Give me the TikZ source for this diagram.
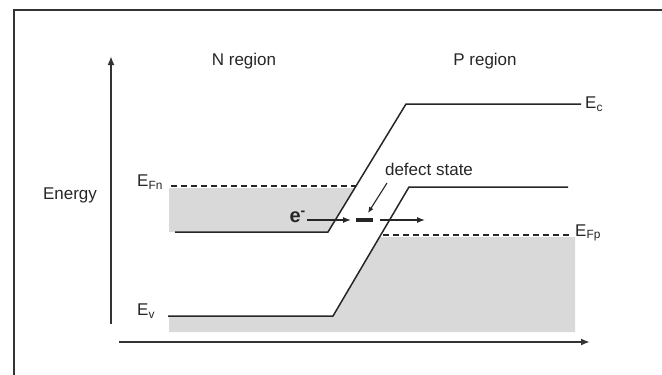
\documentclass[tikz,border=0pt]{standalone}
\usepackage{fontspec}
\setmainfont{Liberation Sans}
\usetikzlibrary{arrows.meta}
\begin{document}
\begin{tikzpicture}[x=1pt,y=-1pt,
  band/.style={line width=1.5pt,draw=black!85},
  fermi/.style={line width=1.3pt,draw=black!85,dash pattern=on 6pt off 4pt},
  axis/.style={line width=1.8pt,draw=black!80,-{Latex[length=9pt,width=7pt]}},
  shade/.style={fill=black!15,draw=none},
  lbl/.style={font=\fontsize{17}{20}\selectfont,text=black!85,inner sep=0pt},
  small/.style={line width=1.3pt,draw=black!85,-{Latex[length=8pt,width=6pt]}}]
\useasboundingbox (0,0) rectangle (662,375);
% frame
\coordinate (f0) at (14,375);
\coordinate (f1) at (14,10);
\coordinate (f2) at (662,10);
\draw[line width=1.6pt,black!80] (f0) -- (f1) -- (f2);
% key points
\coordinate (cn0) at (175,232);
\coordinate (cn1) at (328,232);
\coordinate (cp0) at (406,104);
\coordinate (cp1) at (581,104);
\coordinate (vn0) at (168,316);
\coordinate (vn1) at (333,316);
\coordinate (vp0) at (409,187);
\coordinate (vp1) at (568,187);
\coordinate (fn0) at (171,186);
\coordinate (fn1) at (356,186);
\coordinate (fp0) at (383,235);
\coordinate (fp1) at (572,235);
% shading
\fill[shade] (169,188) -- (354.8,188) -- (cn1) -- (169,232) -- cycle;
\fill[shade] (379.3,237) -- (575,237) -- (575,332) -- (169,332) -- (169,317) -- (332.4,317) -- cycle;
% bands
\draw[band] (cn0) -- (cn1) -- (cp0) -- (cp1);
\draw[band] (vn0) -- (vn1) -- (vp0) -- (vp1);
\draw[fermi] (fn0) -- (fn1);
\draw[fermi] (fp0) -- (fp1);
% axes
\coordinate (y0) at (111,324);
\coordinate (y1) at (111,56);
\coordinate (x0) at (119,342);
\coordinate (x1) at (590,342);
\draw[axis] (y0) -- (y1);
\draw[axis] (x0) -- (x1);
% labels
\node[lbl] (nreg) at (244,61) {N region};
\node[lbl] (preg) at (485,61) {P region};
\node[lbl] (energy) at (70,195) {Energy};
\node[lbl,anchor=west] (ec) at (585,104) {E\textsubscript{c}};
\node[lbl,anchor=west] (ev) at (137,311) {E\textsubscript{v}};
\node[lbl,anchor=west] (efn) at (137,182) {E\textsubscript{Fn}};
\node[lbl,anchor=west] (efp) at (575,233) {E\textsubscript{Fp}};
\node[lbl] (defect) at (429,169) {defect state};
\node[lbl,font=\fontsize{20}{22}\selectfont\bfseries,anchor=east] (el) at (306,217) {e\textsuperscript{-}};
% defect state level
\coordinate (d0) at (356,220);
\coordinate (d1) at (373,220);
\draw[line width=3.2pt,black!85] (d0) -- (d1);
% arrows
\coordinate (a0) at (307,220);
\coordinate (a1) at (351,220);
\coordinate (b0) at (380,220);
\coordinate (b1) at (425,220);
\coordinate (c0) at (387,183);
\coordinate (c1) at (368,213);
\draw[small] (a0) -- (a1);
\draw[small] (b0) -- (b1);
\draw[line width=1.1pt,draw=black!85,-{Latex[length=6pt,width=5pt]}] (c0) -- (c1);
\end{tikzpicture}
\end{document}
